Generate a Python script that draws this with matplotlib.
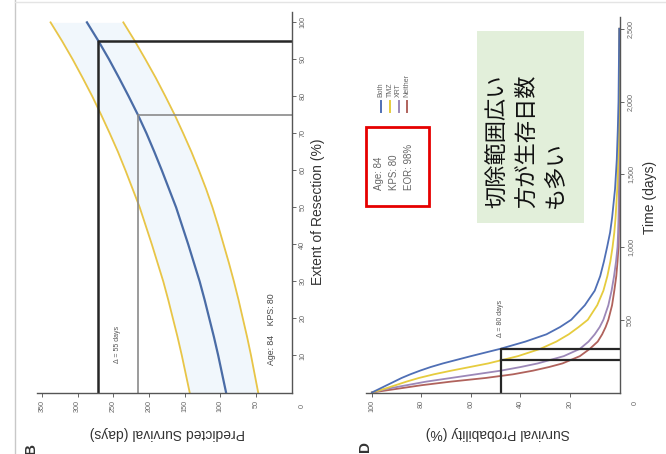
import numpy as np
import matplotlib.pyplot as plt
from matplotlib.patches import Rectangle

plt.rcParams['font.family'] = ['Liberation Sans', 'DejaVu Sans']

# --- panel B: predicted survival vs extent of resection ---
eor = [0, 5, 10, 15, 20, 25, 30, 35, 40, 45, 50, 55, 60, 65, 70, 75, 80, 85, 90, 95, 100]
surv_pred = [92, 97.5, 103, 109, 115.5, 122, 129, 137, 145, 153.5, 162, 172, 182, 192.5,
             203.5, 215.5, 228.5, 242, 256, 271, 287]
surv_upper = [143, 148.5, 154, 160, 166.5, 173, 180, 188, 196, 204.5, 213, 223, 233, 243.5,
              255, 267, 279.5, 293, 307, 322, 338]
surv_lower = [47, 52, 57, 62.5, 68.5, 74.5, 81, 88, 95.5, 103, 111, 120, 130, 140.5,
              152, 164, 177, 190.5, 205, 220, 236]
eor_hi, surv_hi = 95, 271   # black guide
eor_lo, surv_lo = 75, 216   # gray guide
surv_ticks = [50, 100, 150, 200, 250, 300, 350]
eor_ticks = [10, 20, 30, 40, 50, 60, 70, 80, 90, 100]

# --- panel D: survival curves by adjuvant therapy ---
t_days = [0, 25, 50, 75, 100, 125, 150, 175, 200, 250, 300, 350, 400, 450, 500, 600, 700,
          800, 900, 1000, 1100, 1200, 1400, 1600, 1800, 2000, 2500]
curves = {
    'Both':    [100, 97, 94, 91, 88, 84.5, 80.6, 76.3, 71.3, 60, 48.2, 38, 29.5, 24, 19.5,
                14, 10, 7.8, 6.3, 5, 3.8, 3, 1.8, 1.1, 0.7, 0.4, 0.1],
    'TMZ':     [100, 95, 90.5, 86, 81, 75, 68, 60.5, 53, 41, 32, 25.5, 20.5, 16.5, 12.8,
                9, 6.5, 4.9, 3.7, 2.8, 2.1, 1.6, 0.9, 0.5, 0.3, 0.2, 0.05],
    'XRT':     [100, 94, 86, 78, 68, 58, 48, 40, 33, 22.5, 16, 12.5, 10, 8, 6.5,
                4.5, 3.2, 2.2, 1.4, 0.8, 0.55, 0.4, 0.2, 0.1, 0.05, 0.03, 0],
    'Neither': [100, 90, 80, 68, 54, 43, 35, 28.5, 23, 16, 12, 8.8, 7, 5.6, 4.5,
                3, 2.1, 1.3, 0.8, 0.4, 0.3, 0.2, 0.1, 0.05, 0.02, 0, 0],
}
colores = {'Both': '#4f6fb5', 'TMZ': '#e6cc3e', 'XRT': '#9c88b8', 'Neither': '#b0625c'}
s_med = 48
t_both, t_tmz = 302, 222
prob_ticks = [20, 40, 60, 80, 100]
time_ticks = [500, 1000, 1500, 2000, 2500]
time_labels = ['500', '1,000', '1,500', '2,000', '2,500']

W, H = 666, 454
fig = plt.figure(figsize=(W / 100, H / 100), dpi=100)


def osie_px(x0, y0, x1, y1):
    # box given in pixels, origin top-left
    return fig.add_axes([x0 / W, 1 - y1 / H, (x1 - x0) / W, (y1 - y0) / H])


def styl(ax):
    for s in ('top', 'left'):
        ax.spines[s].set_visible(False)
    for s in ('bottom', 'right'):
        ax.spines[s].set_color('#555555')
        ax.spines[s].set_linewidth(1.0)
    ax.yaxis.tick_right()
    ax.tick_params(direction='out', length=3, width=0.7, colors='#666666',
                   labelsize=5.2, pad=2.5)
    ax.tick_params(axis='x', labelrotation=90)
    ax.tick_params(axis='y', labelrotation=90)
    for lb in ax.get_yticklabels():
        lb.set_va('center')
    ax.set_facecolor('none')


# panel B
axB = osie_px(37, 12, 291.7, 392.5)
axB.set_xlim(357, 0)
axB.set_ylim(0, 102.8)
axB.set_xticks(surv_ticks)
axB.set_xticklabels([str(v) for v in surv_ticks])
axB.set_yticks(eor_ticks)
axB.set_yticklabels([str(v) for v in eor_ticks])
styl(axB)

axB.fill_betweenx(eor, surv_lower, surv_upper, color='#f1f7fc', lw=0, zorder=0)
axB.plot(surv_upper, eor, color='#e8c547', lw=1.3)
axB.plot(surv_lower, eor, color='#e8c547', lw=1.3)
axB.plot(surv_pred, eor, color='#4a6ca6', lw=1.6)
axB.plot([surv_hi, surv_hi, 0], [0, eor_hi, eor_hi], color='#262626', lw=1.8)
axB.plot([surv_lo, surv_lo, 0], [0, eor_lo, eor_lo], color='#8a8a8a', lw=1.2)
axB.text((surv_hi + surv_lo) / 2, 13, '\u0394 = %d days' % (surv_hi - surv_lo),
         rotation=90, ha='center', va='center', fontsize=5, color='#555555')
axB.text(29, 17, 'Age: 84    KPS: 80', rotation=90, ha='center', va='center',
         fontsize=6.3, color='#444444')
axB.annotate('0', xy=(0, 0), xytext=(7.4, -9.7), textcoords='offset points',
             rotation=90, ha='center', va='center', fontsize=5.2, color='#666666')
axB.text(0.51, -0.106, 'Predicted Survival (days)', transform=axB.transAxes,
         rotation=180, ha='center', va='center', fontsize=10, color='#333333')
axB.text(1.105, 0.475, 'Extent of Resection (%)', transform=axB.transAxes,
         rotation=90, ha='center', va='center', fontsize=10, color='#333333')

# panel D
axD = osie_px(366, 17, 619.5, 392.5)
axD.set_xlim(102.4, 0)
axD.set_ylim(0, 2581)
axD.set_xticks(prob_ticks)
axD.set_xticklabels([str(v) for v in prob_ticks])
axD.set_yticks(time_ticks)
axD.set_yticklabels(time_labels)
styl(axD)

for nazwa in ['Neither', 'XRT', 'TMZ', 'Both']:
    axD.plot(curves[nazwa], t_days, color=colores[nazwa], lw=1.3)
axD.plot([s_med, s_med, 0], [0, t_both, t_both], color='#262626', lw=1.6)
axD.plot([s_med, 0], [t_tmz, t_tmz], color='#262626', lw=1.6)
axD.text(s_med, t_both + 80, '\u0394 = %d days' % (t_both - t_tmz), rotation=90,
         rotation_mode='anchor', ha='left', va='center', fontsize=5, color='#555555')
axD.annotate('0', xy=(0, 0), xytext=(11.3, -7.8), textcoords='offset points',
             rotation=90, ha='center', va='center', fontsize=5.2, color='#666666')
axD.text(0.52, -0.108, 'Survival Probability (%)', transform=axD.transAxes,
         rotation=180, ha='center', va='center', fontsize=10, color='#333333')
axD.text(1.12, 0.52, 'Time (days)', transform=axD.transAxes,
         rotation=90, ha='center', va='center', fontsize=10, color='#333333')

# overlay in pixel units for page edge, legend and boxes
nak = fig.add_axes([0, 0, 1, 1], facecolor='none')
nak.set_xlim(0, W)
nak.set_ylim(H, 0)
nak.axis('off')

nak.plot([15, 15], [0, H], color='#c8c8c8', lw=1)
nak.plot([15, W], [2, 2], color='#e4e4e4', lw=1)

nak.text(31, 449, 'B', rotation=90, ha='center', va='center', fontsize=11,
         fontweight='bold', color='#333333')
nak.text(365, 447, 'D', rotation=90, ha='center', va='center', fontsize=11,
         fontweight='bold', color='#333333')

# legend of panel D, drawn sideways
leg_x = [381, 390, 398.5, 407]
for x, nazwa in zip(leg_x, ['Both', 'TMZ', 'XRT', 'Neither']):
    nak.plot([x, x], [101, 112], color=colores[nazwa], lw=1.4)
    nak.text(x, 97, nazwa, rotation=90, rotation_mode='anchor', ha='left',
             va='center', fontsize=5.0, color='#666666')

nak.add_patch(Rectangle((365.5, 127), 63, 79, fill=False, edgecolor='#e60000', lw=2))
nak.text(374, 190, 'Age: 84\nKPS: 80\nEOR: 98%', rotation=90, rotation_mode='anchor',
         ha='left', va='top', fontsize=7, linespacing=1.6, color='#666666')

nak.add_patch(Rectangle((477, 31), 107, 192, facecolor='#e2efda', edgecolor='none'))
nak.text(486, 208, '切除範囲広い\n方が生存日数\nも多い', rotation=90,
         rotation_mode='anchor', ha='left', va='top', fontsize=16, linespacing=1.33,
         family=['Noto Sans CJK JP', 'DejaVu Sans'], color='#111111')

fig.savefig('out.png', dpi=100)
